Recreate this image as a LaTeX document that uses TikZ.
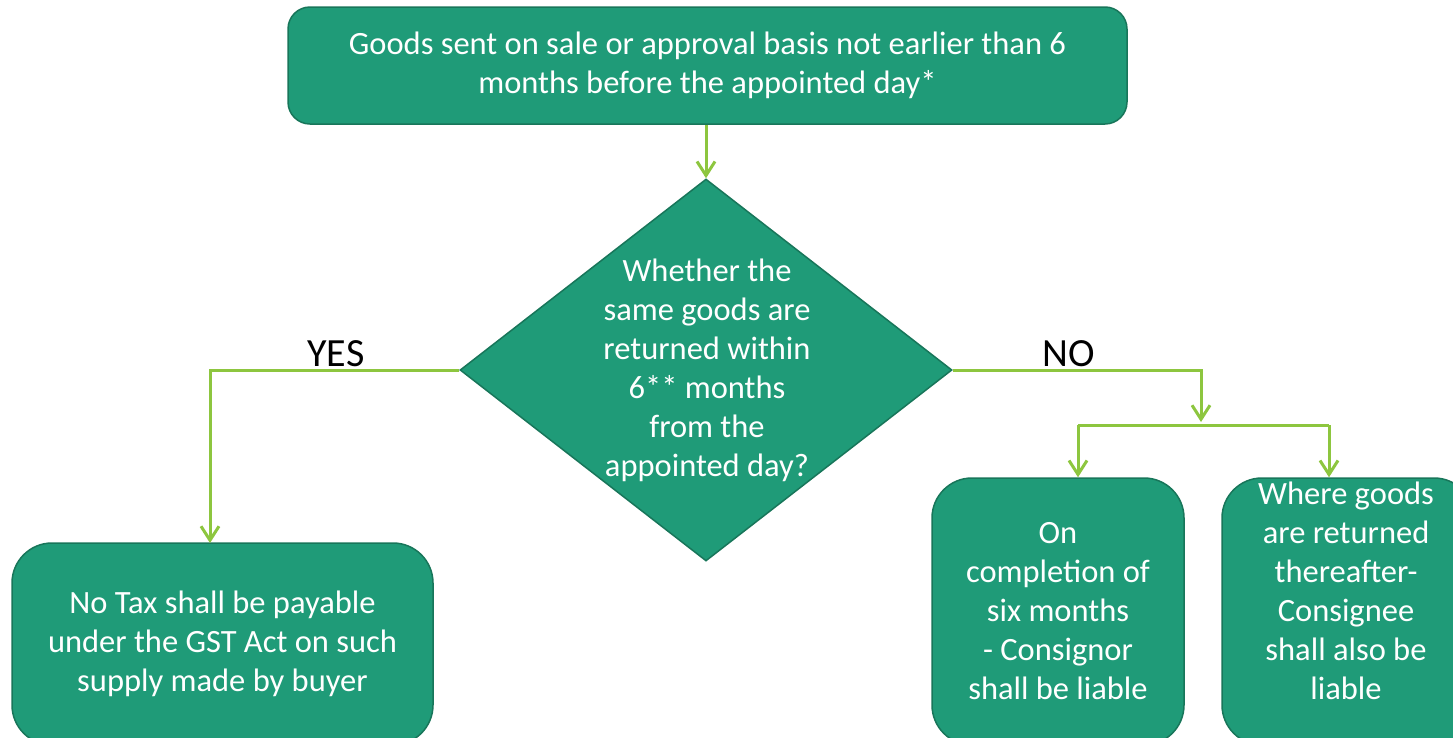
\documentclass[tikz,border=0pt]{standalone}
\usepackage{fontspec}
\setmainfont{Carlito}
\usetikzlibrary{shapes.geometric,arrows.meta}
\definecolor{boxfill}{RGB}{31,155,120}
\definecolor{boxline}{RGB}{24,118,90}
\definecolor{flowgreen}{RGB}{141,198,63}
\begin{document}
\begin{tikzpicture}[x=1pt,y=-1pt,
  box/.style={draw=boxline, line width=1.5pt, fill=boxfill, rounded corners=#1,
    text=white, align=center, inner sep=0pt, font=\fontsize{32.5}{39}\selectfont},
  decision/.style={diamond, draw=boxline, line width=1.5pt, fill=boxfill, inner sep=0pt},
  txt/.style={text=white, align=center, inner sep=0pt, font=\fontsize{32.5}{39}\selectfont},
  answer/.style={text=black, inner sep=0pt, font=\fontsize{40}{48}\selectfont},
  flow/.style={draw=flowgreen, line width=3pt, -{Straight Barb[length=14pt,width=18pt]}},
  flowline/.style={draw=flowgreen, line width=3pt},
]
\useasboundingbox (0,0) rectangle (1453,737);
\clip (0,0) rectangle (1453,737);

% boxes
\node[box=22pt, minimum width=839pt, minimum height=117pt] (start) at (707.5,65.5)
  {Goods sent on sale or approval basis not earlier than 6\\months before the appointed day*};
\node[decision, minimum width=492pt, minimum height=382pt] (q) at (706,370) {};
\node[txt] (qtext) at (707,370)
  {Whether the\\same goods are\\returned within\\6** months\\from the\\appointed day?};
\node[box=40pt, minimum width=421pt, minimum height=202pt] (notax) at (222.5,644)
  {No Tax shall be payable\\under the GST Act on such\\supply made by buyer};
\node[box=40pt, minimum width=252pt, minimum height=267pt] (consignor) at (1058,611.5)
  {On\\completion of\\six months\\- Consignor\\shall be liable};
\node[box=40pt, minimum width=252pt, minimum height=267pt] (consignee) at (1348,611.5) {};
\node[txt] (consigneetext) at (1346,591)
  {Where goods\\are returned\\thereafter-\\Consignee\\shall also be\\liable};

% answers
\node[answer] (yes) at (336,354) {YES};
\node[answer] (no) at (1069,354) {NO};

% connectors
\coordinate (split) at (1201,425);
\coordinate (bl) at (1078,425);
\coordinate (br) at (1329,425);
\coordinate (yesdrop) at (210,543);

\draw[flow] (start.south -| q.north) -- (q.north);
\draw[flow] (q.west) -| (yesdrop);
\draw[flow] (q.east) -| ([yshift=3pt]split);
\draw[flowline] (bl) -- (br);
\draw[flow] (bl) -- (bl |- consignor.north);
\draw[flow] (br) -- (br |- consignee.north);
\end{tikzpicture}
\end{document}
